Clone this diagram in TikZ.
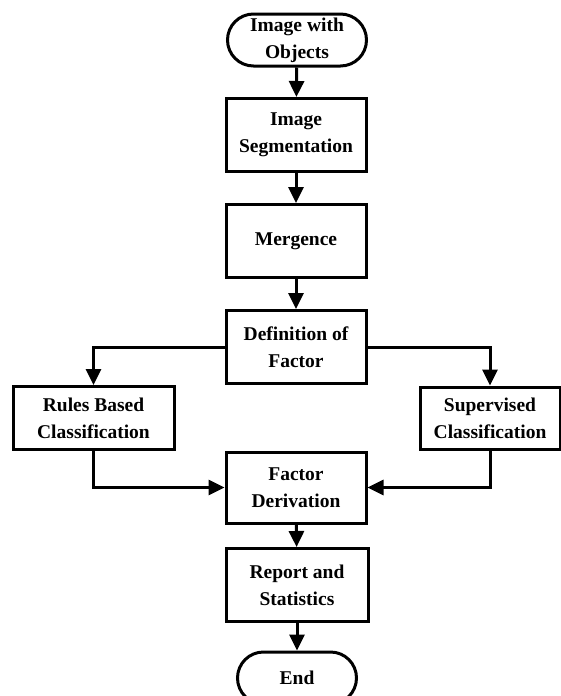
\documentclass[tikz,border=0pt]{standalone}
\usepackage{fontspec}
\setmainfont{Liberation Serif}
\usetikzlibrary{arrows.meta,shapes.misc}
\tikzset{
  stepbox/.style={draw,line width=3pt,minimum width=140pt,minimum height=73pt,align=center,inner sep=2pt,font=\fontsize{19.5}{27}\selectfont\bfseries},
  termbox/.style={stepbox,rounded rectangle,minimum height=52pt},
  flow/.style={line width=3pt,-{Triangle[length=16pt,width=15pt]}}
}
\begin{document}
\begin{tikzpicture}[x=1pt,y=-1pt]
    \useasboundingbox (0,0) rectangle (561,696);
    % nodos del diagrama
    \coordinate (S) at (297,40);
    \coordinate (L) at (93.5,418);
    \coordinate (R) at (490,418);

    \node[termbox,minimum width=143pt] (start) at (S) {Image with\\Objects};
    \node[stepbox] (seg) at (296,135) {Image\\Segmentation};
    \node[stepbox] (merge) at (296,241) {Mergence};
    \node[stepbox] (deff) at (296,347) {Definition of\\Factor};
    \node[stepbox,minimum width=161pt,minimum height=63pt] (rules) at (L) {Rules Based\\Classification};
    \node[stepbox,minimum width=140pt,minimum height=62pt] (sup) at (R) {Supervised\\Classification};
    \node[stepbox,minimum height=71pt] (deriv) at (296,487.5) {Factor\\Derivation};
    \node[stepbox,minimum width=142pt] (report) at (297,585) {Report and\\Statistics};
    \node[termbox,minimum width=123pt] (end) at (297,678) {End};

    \draw[flow] (start) -- (seg);
    \draw[flow] (seg) -- (merge);
    \draw[flow] (merge) -- (deff);
    \draw[flow] (deff.west) -| (rules.north);
    \draw[flow] (deff.east) -| (sup.north);
    \draw[flow] (rules.south) |- (deriv.west);
    \draw[flow] (sup.south) |- (deriv.east);
    \draw[flow] (deriv) -- (report);
    \draw[flow] (report) -- (end);
\end{tikzpicture}
\end{document}
